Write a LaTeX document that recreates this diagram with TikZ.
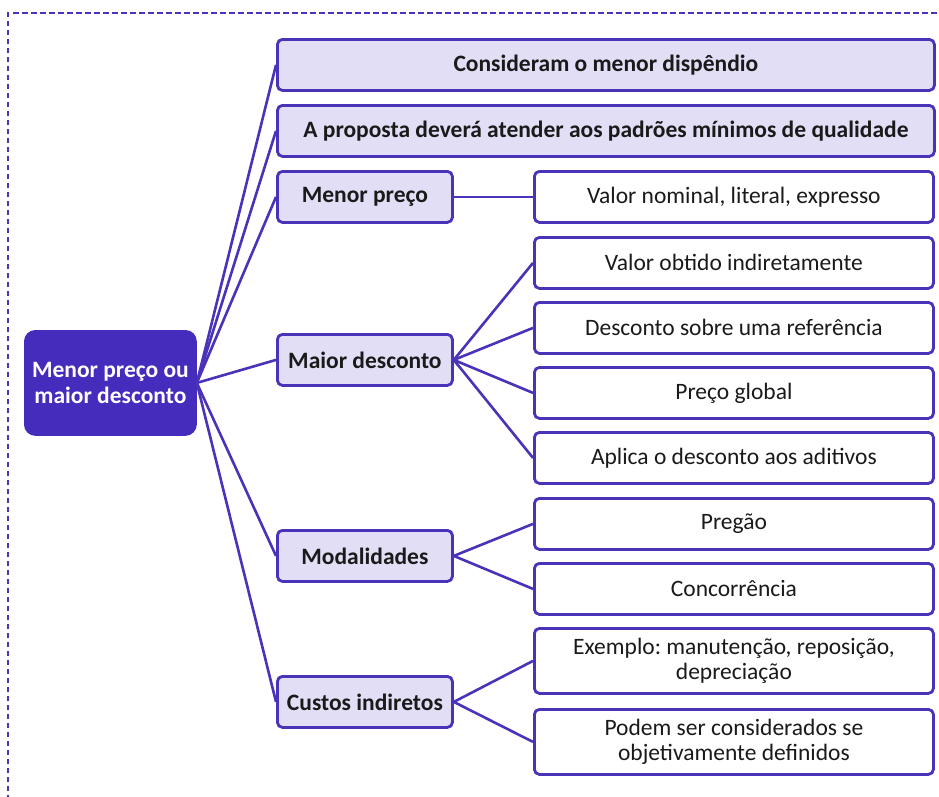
\documentclass[tikz,border=0pt]{standalone}
\usepackage{fontspec}
\setmainfont{Carlito}
\frenchspacing
\definecolor{lineC}{HTML}{4A33B9}
\definecolor{rootC}{HTML}{462CBC}
\definecolor{lightC}{HTML}{E2DEF5}
\definecolor{txtC}{HTML}{1A1A1A}
\begin{document}
\begin{tikzpicture}[x=1pt,y=-1pt,
  base/.style={draw=lineC, line width=2.8pt, rounded corners=5pt, anchor=north west, inner sep=0pt, align=center, text=txtC, font=\fontsize{23.5}{25}\selectfont},
  rootbox/.style={base, fill=rootC, draw=rootC, rounded corners=10pt, text=white, font=\fontsize{23.5}{26}\selectfont\bfseries},
  midbox/.style={base, fill=lightC, font=\fontsize{23.5}{25}\selectfont\bfseries},
  leafbox/.style={base, fill=white},
  conn/.style={draw=lineC, line width=2.6pt},
  frame/.style={draw=lineC, line width=1.2pt, dash pattern=on 5.5pt off 3.5pt}
]
\useasboundingbox (0,0) rectangle (939,796);
\draw[frame] (8,800) -- (8,13) -- (945,13);

\node[rootbox, minimum width=170pt, minimum height=103pt] (root) at (24,330) {Menor preço ou\\maior desconto};

\node[midbox, minimum width=657pt, minimum height=51pt] (c1) at (276,38) {Consideram o menor dispêndio};
\node[midbox, minimum width=657pt, minimum height=51pt] (c2) at (276,104) {A proposta deverá atender aos padrões mínimos de qualidade};
\node[midbox, minimum width=175pt, minimum height=51pt] (mp) at (276,170) {Menor preço};
\node[midbox, minimum width=175pt, minimum height=51pt] (md) at (276,333) {Maior desconto};
\node[midbox, minimum width=175pt, minimum height=51pt] (mo) at (276,529) {Modalidades};
\node[midbox, minimum width=175pt, minimum height=51pt] (ci) at (276,675) {Custos indiretos};

\node[leafbox, minimum width=399pt, minimum height=51pt] (l1) at (533,170) {Valor nominal, literal, expresso};
\node[leafbox, minimum width=399pt, minimum height=51pt] (l2) at (533,236) {Valor obtido indiretamente};
\node[leafbox, minimum width=399pt, minimum height=51pt] (l3) at (533,301) {Desconto sobre uma referência};
\node[leafbox, minimum width=399pt, minimum height=51pt] (l4) at (533,366) {Preço global};
\node[leafbox, minimum width=399pt, minimum height=51pt] (l5) at (533,431) {Aplica o desconto aos aditivos};
\node[leafbox, minimum width=399pt, minimum height=51pt] (l6) at (533,497) {Pregão};
\node[leafbox, minimum width=399pt, minimum height=51pt] (l7) at (533,562) {Concorrência};
\node[leafbox, minimum width=399pt, minimum height=65pt] (l8) at (533,627) {Exemplo: manutenção, reposição,\\depreciação};
\node[leafbox, minimum width=399pt, minimum height=65pt] (l9) at (533,708) {Podem ser considerados se\\objetivamente definidos};

\foreach \n in {c1,c2,mp,md,mo,ci} \draw[conn] (root.east) -- (\n.west);
\draw[conn] (mp.east) -- (l1.west);
\foreach \n in {l2,l3,l4,l5} \draw[conn] (md.east) -- (\n.west);
\foreach \n in {l6,l7} \draw[conn] (mo.east) -- (\n.west);
\foreach \n in {l8,l9} \draw[conn] (ci.east) -- (\n.west);
\end{tikzpicture}
\end{document}
